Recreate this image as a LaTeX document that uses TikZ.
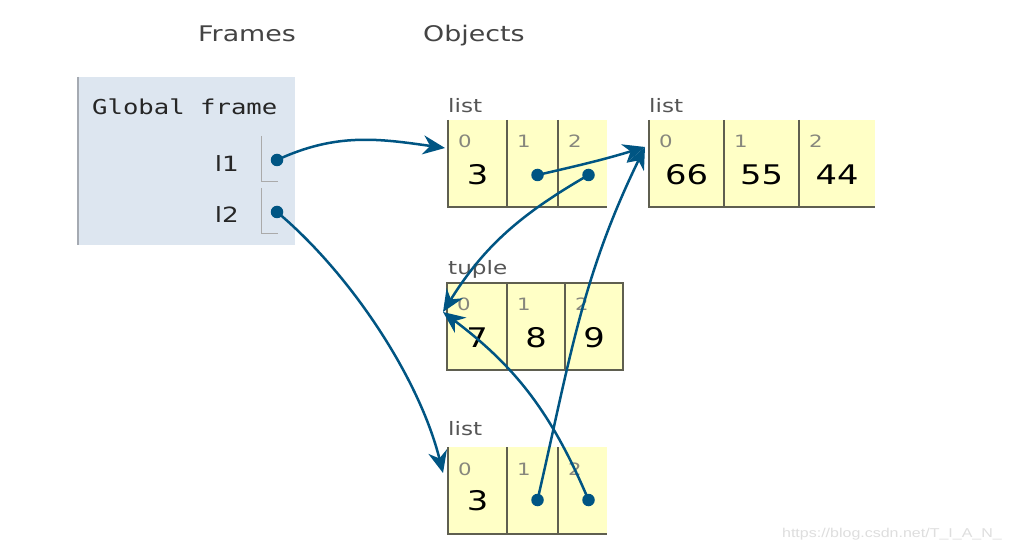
\documentclass[tikz,border=0pt]{standalone}
\usepackage{fontspec}
\setmainfont{DejaVu Sans}[FakeStretch=1.25]
\setmonofont{DejaVu Sans Mono}[FakeStretch=1.25]
\newfontfamily\wmfont{Liberation Sans}[FakeStretch=1.25]
\usepackage{tikz}
\usetikzlibrary{arrows.meta,calc,positioning}

\definecolor{ptrblue}{RGB}{0,85,131}
\definecolor{framebg}{RGB}{221,230,240}
\definecolor{frameline}{RGB}{165,170,178}
\definecolor{heapyellow}{RGB}{255,255,198}
\definecolor{cellline}{RGB}{95,95,80}
\definecolor{idxgray}{RGB}{135,135,125}
\definecolor{labgray}{RGB}{85,85,85}
\definecolor{headgray}{RGB}{68,68,68}
\definecolor{slotline}{RGB}{170,170,170}

\tikzset{
  cell/.style={fill=heapyellow,inner sep=0pt,outer sep=0pt,minimum height=87pt,anchor=north west},
  cellline/.style={draw=cellline,line width=1.3pt},
  idx/.style={text=idxgray,font=\fontsize{17}{20}\selectfont,anchor=base west,inner sep=0pt},
  val/.style={font=\fontsize{27}{30}\selectfont,anchor=base,inner sep=0pt},
  kind/.style={text=labgray,font=\fontsize{18.5}{22}\selectfont,anchor=base west,inner sep=0pt},
  head/.style={text=headgray,font=\fontsize{21.5}{25}\selectfont,anchor=base west,inner sep=0pt},
  varname/.style={text=black!85,font=\fontsize{21}{24}\selectfont,anchor=base east,inner sep=0pt},
  dot/.style={circle,fill=ptrblue,inner sep=0pt,minimum size=12.5pt},
  ptr/.style={draw=ptrblue,line width=2.5pt,-{Stealth[length=22pt,width=19pt,inset=7pt]}},
}

\begin{document}
\begin{tikzpicture}[x=1pt,y=1pt]
\useasboundingbox[fill=white] (0,0) rectangle (1011,552);

% headings
\node[head] (frames) at (198,510) {Frames};
\node[head] (objects) at (423,510) {Objects};

% global frame
\node[fill=framebg,inner sep=0pt,outer sep=0pt,minimum width=217pt,minimum height=168pt,anchor=north west] (gf) at (78,475) {};
\draw[frameline,line width=1.3pt] (gf.north west) -- (gf.south west);
\node[anchor=base west,inner sep=0pt,font=\ttfamily\fontsize{20.5}{24}\selectfont,text=black!85] (gftitle) at (92,437) {Global frame};
\node[varname] (n1) at (239,380) {l1};
\node[varname] (n2) at (239,329) {l2};
\coordinate (s1) at (261,416);
\coordinate (s2) at (261,364);
\draw[slotline,line width=1pt] (s1) |- ++(17,-46);
\draw[slotline,line width=1pt] (s2) |- ++(17,-46);
\node[dot] (p1) at (277,392) {};
\node[dot] (p2) at (277,340) {};

% list [3, ., .]
\node[kind] (k1) at (448,439) {list};
\node[cell,minimum width=59pt] (a0) at (448,432) {};
\node[cell,minimum width=51pt] (a1) at (507,432) {};
\node[cell,minimum width=49pt] (a2) at (558,432) {};
\draw[cellline] (a0.north west) |- (a2.south east);
\draw[cellline] (a1.north west) -- (a1.south west);
\draw[cellline] (a2.north west) -- (a2.south west);
\node[idx] at ($(a0.north west)+(10,-28)$) {0};
\node[idx] at ($(a1.north west)+(10,-28)$) {1};
\node[idx] at ($(a2.north west)+(10,-28)$) {2};
\node[val] at ($(a0.north)+(0,-65)$) {3};
\node[dot] (a1d) at ($(a1.north)+(5,-55)$) {};
\node[dot] (a2d) at ($(a2.north)+(6,-55)$) {};

% list [66, 55, 44]
\node[kind] (k2) at (649,439) {list};
\node[cell,minimum width=75pt] (b0) at (649,432) {};
\node[cell,minimum width=75pt] (b1) at (724,432) {};
\node[cell,minimum width=76pt] (b2) at (799,432) {};
\draw[cellline] (b0.north west) |- (b2.south east);
\draw[cellline] (b1.north west) -- (b1.south west);
\draw[cellline] (b2.north west) -- (b2.south west);
\node[idx] at ($(b0.north west)+(10,-28)$) {0};
\node[idx] at ($(b1.north west)+(10,-28)$) {1};
\node[idx] at ($(b2.north west)+(10,-28)$) {2};
\node[val] at ($(b0.north)+(0,-65)$) {66};
\node[val] at ($(b1.north)+(0,-65)$) {55};
\node[val] at ($(b2.north)+(0,-65)$) {44};

% tuple (7, 8, 9)
\node[kind] (k3) at (448,277) {tuple};
\node[cell,minimum width=60pt] (t0) at (447,269) {};
\node[cell,minimum width=58pt] (t1) at (507,269) {};
\node[cell,minimum width=58pt] (t2) at (565,269) {};
\draw[cellline] (t0.north west) rectangle (t2.south east);
\draw[cellline] (t1.north west) -- (t1.south west);
\draw[cellline] (t2.north west) -- (t2.south west);
\node[idx] at ($(t0.north west)+(10,-28)$) {0};
\node[idx] at ($(t1.north west)+(10,-28)$) {1};
\node[idx] at ($(t2.north west)+(10,-28)$) {2};
\node[val] at ($(t0.north)+(0,-64)$) {7};
\node[val] at ($(t1.north)+(0,-64)$) {8};
\node[val] at ($(t2.north)+(0,-64)$) {9};

% list [3, ., .]
\node[kind] (k4) at (448,117) {list};
\node[cell,minimum width=59pt] (c0) at (448,105) {};
\node[cell,minimum width=51pt] (c1) at (507,105) {};
\node[cell,minimum width=49pt] (c2) at (558,105) {};
\draw[cellline] (c0.north west) |- (c2.south east);
\draw[cellline] (c1.north west) -- (c1.south west);
\draw[cellline] (c2.north west) -- (c2.south west);
\node[idx] at ($(c0.north west)+(10,-28)$) {0};
\node[idx] at ($(c1.north west)+(10,-28)$) {1};
\node[idx] at ($(c2.north west)+(10,-28)$) {2};
\node[val] at ($(c0.north)+(0,-63)$) {3};
\node[dot] (c1d) at ($(c1.north)+(5,-53)$) {};
\node[dot] (c2d) at ($(c2.north)+(6,-53)$) {};

% arrow ends
\coordinate (a0in) at ($(a0.north west)+(-3,-28)$);
\coordinate (b0in) at ($(b0.north west)+(-4,-27)$);
\coordinate (t0in) at ($(t0.north west)+(-4,-29)$);
\coordinate (c0in) at ($(c0.north west)+(-5,-26)$);

% pointers
\draw[ptr] (p1.center) to[out=25,in=172] (a0in);
\draw[ptr] (p2.center) to[out=-40,in=104,looseness=0.8] (c0in);
\draw[ptr] (a1d.center) to[out=13,in=197] (b0in);
\draw[ptr] (a2d.center) to[out=210,in=58] (t0in);
\draw[ptr] (c2d.center) to[out=113,in=-37] (t0in);
\draw[ptr] (c1d.center) to[out=77,in=-116] (b0in);

% watermark
\node[anchor=base east,inner sep=0pt,text=black!13,font=\wmfont\fontsize{12.8}{15}\selectfont] (wm) at (1002,15) {https://blog.csdn.net/T\_I\_A\_N\_};
\end{tikzpicture}
\end{document}
